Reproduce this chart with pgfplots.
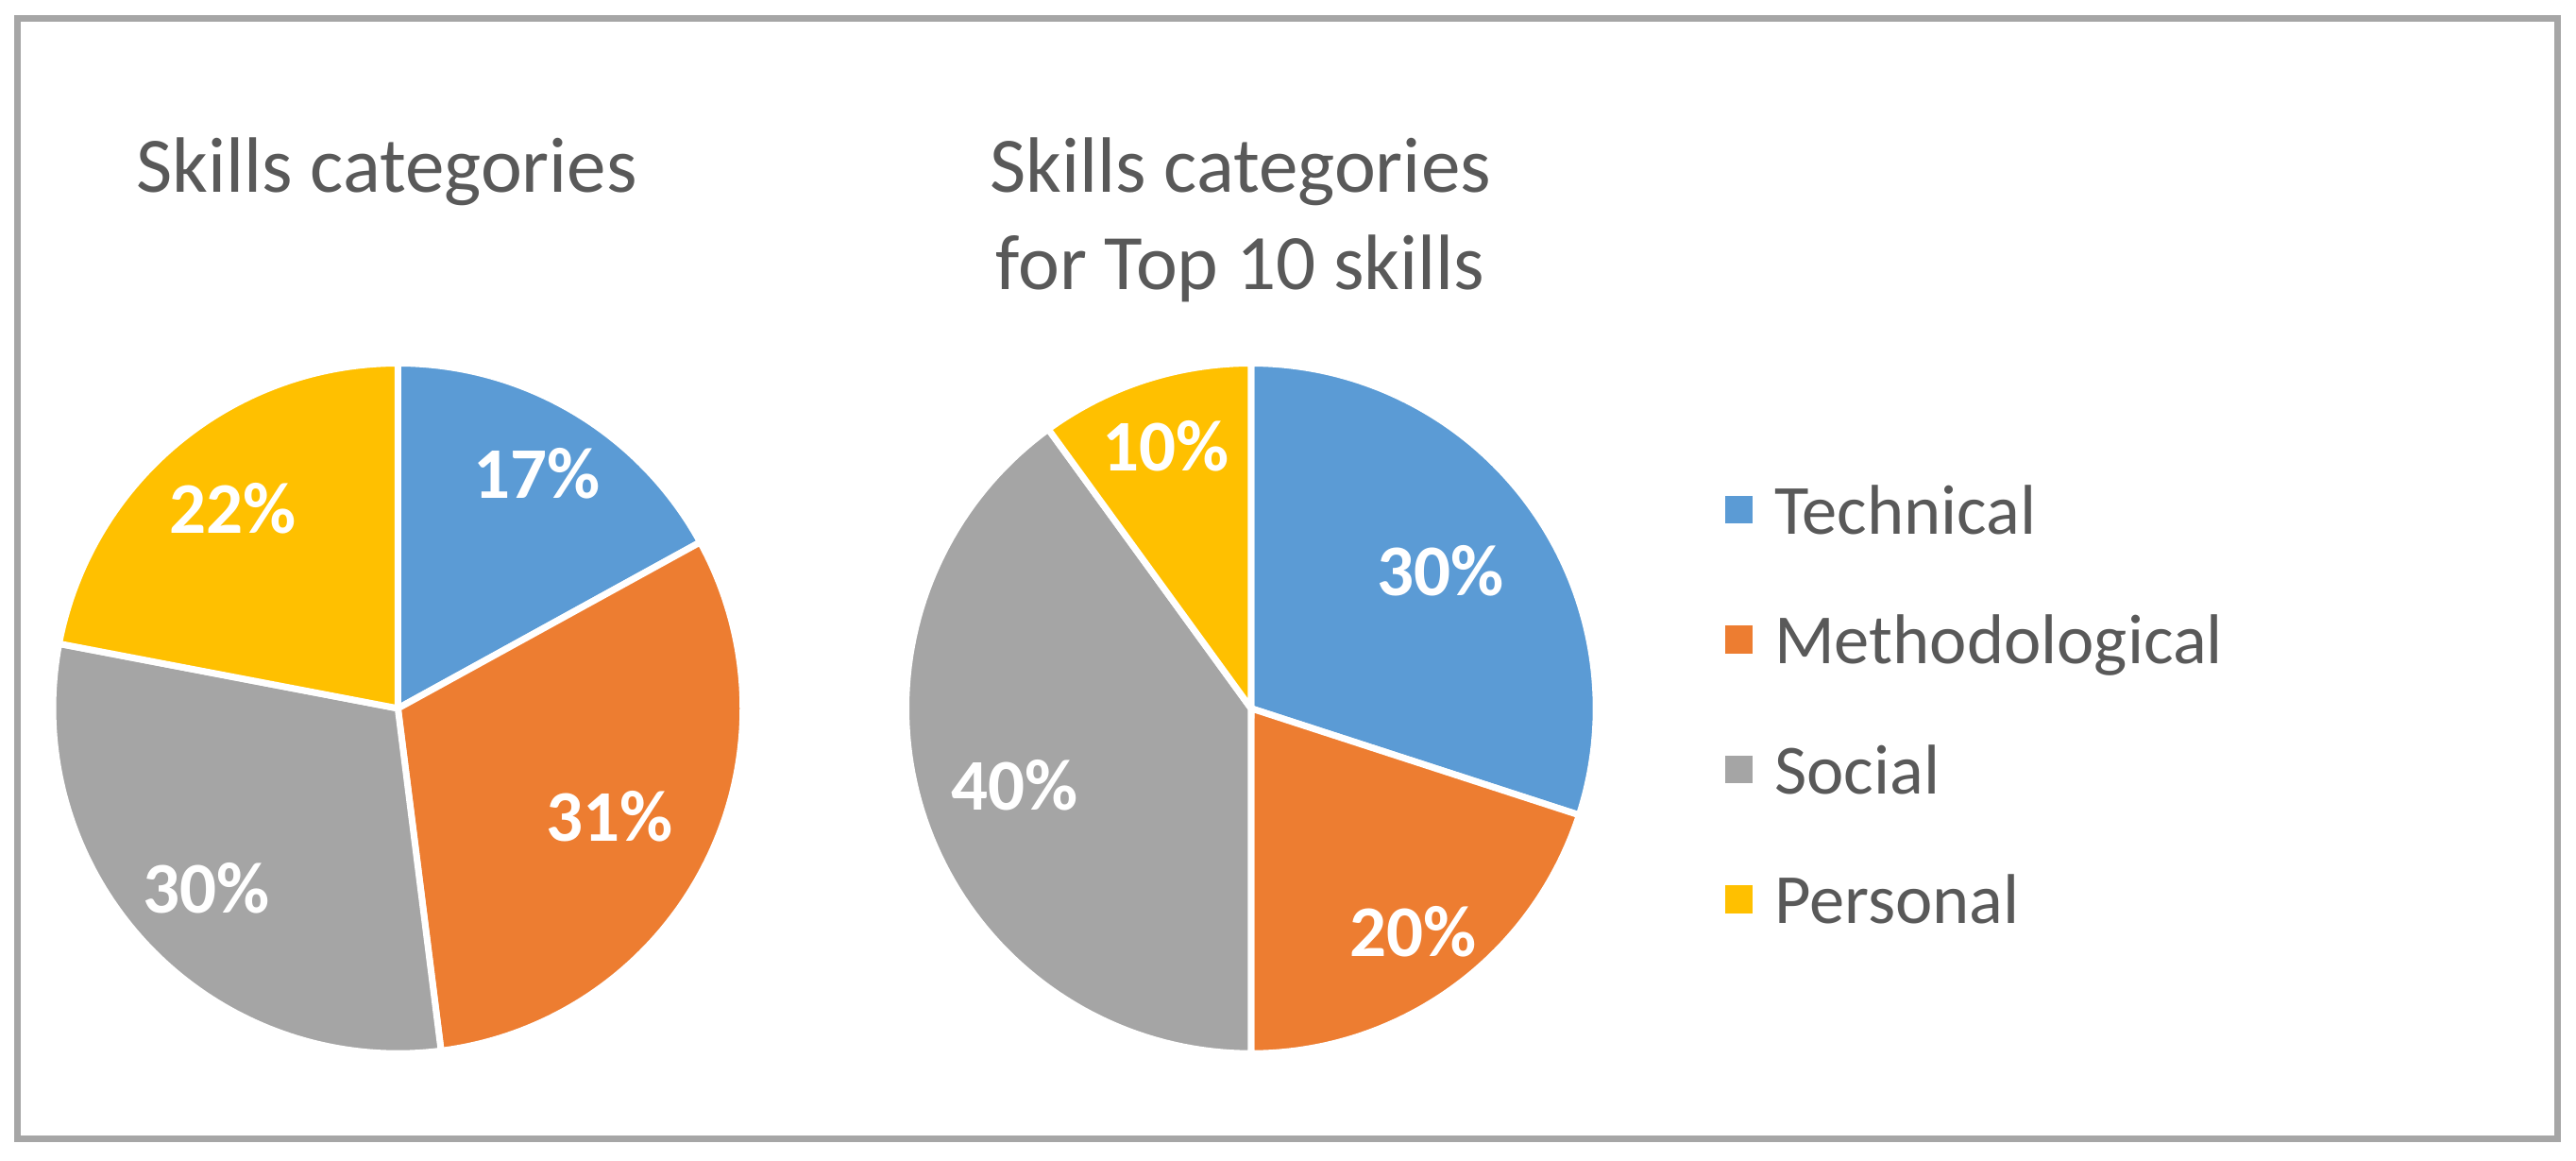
\documentclass[border=0pt]{standalone}
\usepackage{fontspec}
\setmainfont{Carlito}
\usepackage{pgfplots}
\usepackage{pgfplotstable}
\pgfplotsset{compat=1.18}

\definecolor{techblue}{HTML}{5B9BD5}
\definecolor{methorange}{HTML}{ED7D31}
\definecolor{socgray}{HTML}{A5A5A5}
\definecolor{persyellow}{HTML}{FFC000}
\definecolor{textgray}{HTML}{595959}
\definecolor{framegray}{HTML}{A6A6A6}

% share of each category (%), lr = radius of the data label
\pgfplotstableread{
cat pct lr
Technical 17 0.79
Methodological 31 0.69
Social 30 0.76
Personal 22 0.75
}\allskills
\pgfplotstableread{
cat pct lr
Technical 30 0.68
Methodological 20 0.80
Social 40 0.72
Personal 10 0.80
}\topskills

\newcommand\slicecolor[1]{\ifcase#1 techblue\or methorange\or socgray\or persyellow\fi}

% slices start at 12 o'clock and run clockwise
\newcommand\drawpie[1]{%
  \def\cum{0}%
  \pgfplotsforeachungrouped \i in {0,1,2,3}{%
    \pgfplotstablegetelem{\i}{pct}\of{#1}\let\pct\pgfplotsretval
    \pgfplotstablegetelem{\i}{lr}\of{#1}\let\lr\pgfplotsretval
    \pgfmathsetmacro\angA{90-3.6*\cum}%
    \pgfmathsetmacro\angB{90-3.6*(\cum+\pct)}%
    \pgfmathsetmacro\angM{(\angA+\angB)/2}%
    \pgfmathsetmacro\cum{\cum+\pct}%
    \edef\doslice{\noexpand\addplot[fill=\slicecolor{\i}, draw=white,
      line width=0.04cm, data cs=polar, domain=\angB:\angA, samples=90]
      ({x},{1}) -- (axis cs:0,0) -- cycle;}%
    \doslice
    \edef\dolabel{\noexpand\addplot[forget plot, draw=none, data cs=polar,
      nodes near coords, point meta=explicit symbolic]
      coordinates {(\angM,\lr) [\pct\noexpand\%]};}%
    \dolabel
  }%
}

\pgfplotsset{
  pie/.style={
    x=2.10cm, y=2.10cm,
    xmin=-1, xmax=1, ymin=-1, ymax=1,
    enlargelimits=false,
    hide axis, clip=false,
    anchor=center,
    every node near coord/.append style={
      anchor=center, inner sep=0pt, text=white,
      font=\bfseries\fontsize{12.6}{14}\selectfont
    }
  }
}

\begin{document}
\begin{tikzpicture}
\useasboundingbox (0,0) rectangle (15.68,7.06);
\fill[white] (0,0) rectangle (15.68,7.06);
\draw[framegray, line width=0.04cm] (0.106,0.13) rectangle (15.567,6.948);

\node[anchor=base, text=textgray, font=\fontsize{13.6}{16.8}\selectfont]
  at (2.354,5.892) {Skills categories};
\node[anchor=base, text=textgray, font=\fontsize{13.6}{16.8}\selectfont]
  at (7.55,5.892) {Skills categories};
\node[anchor=base, text=textgray, font=\fontsize{13.6}{16.8}\selectfont]
  at (7.55,5.296) {for Top 10 skills};

\begin{axis}[pie, at={(2.422cm,2.75cm)}]
\drawpie{\allskills}
\end{axis}

\begin{axis}[pie, at={(7.615cm,2.75cm)},
  legend image code/.code={
    \fill[#1, draw=none] (0cm,-0.061cm) rectangle (0.17cm,0.109cm);
    \path[draw=none, fill=none] (0cm,0cm) -- (0.30cm,0cm);
  },
  legend style={
    at={(axis cs:1.374,0.752)}, anchor=north west,
    draw=none, fill=none, inner sep=0pt, outer sep=0pt,
    row sep=0pt, column sep=0pt,
    font=\fontsize{12.2}{14}\selectfont, text=textgray,
    nodes={inner sep=0pt, text height=0.519cm, text depth=0.271cm}
  },
  legend cell align=left]
\drawpie{\topskills}
\legend{Technical,Methodological,Social,Personal}
\end{axis}
\end{tikzpicture}
\end{document}
